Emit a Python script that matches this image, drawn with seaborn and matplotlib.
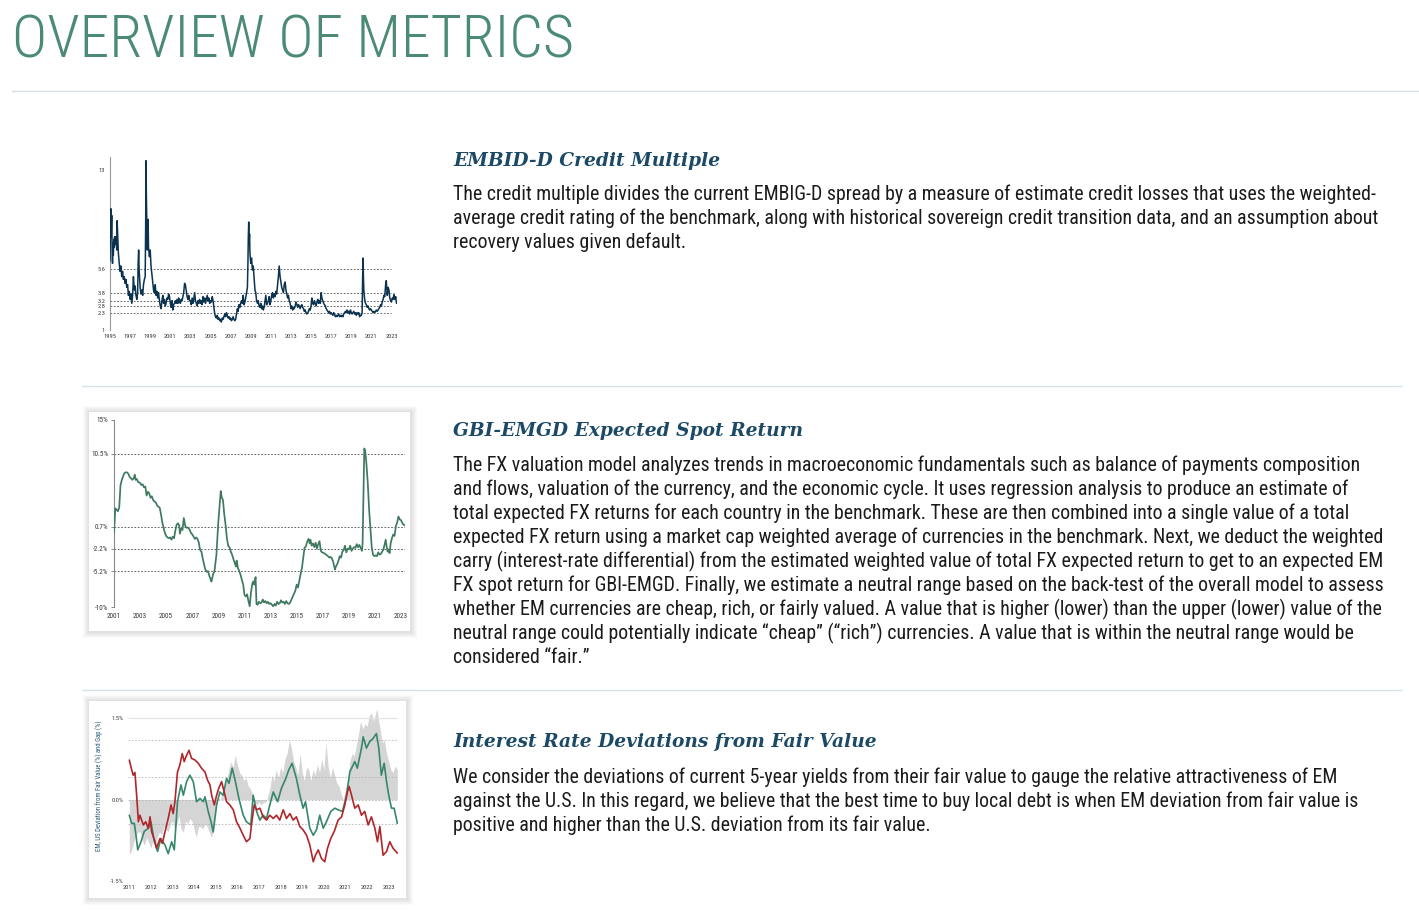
import matplotlib
matplotlib.use("Agg")
import numpy as np
import pandas as pd
import matplotlib.pyplot as plt
import seaborn as sns
from matplotlib import font_manager
from matplotlib.patches import Rectangle
from matplotlib.lines import Line2D

# ---- data: EMBI-D credit multiple (year, multiple) ----
credit = [
    (1995.00, 6.2), (1995.04, 8.5), (1995.08, 10.1), (1995.12, 8.0), (1995.17, 9.6), (1995.21, 7.0),
    (1995.25, 6.0), (1995.29, 7.5), (1995.33, 6.6), (1995.38, 7.8), (1995.42, 7.2), (1995.46, 8.0),
    (1995.50, 7.4), (1995.58, 8.0), (1995.67, 7.0), (1995.71, 9.2), (1995.75, 8.4), (1995.83, 6.8),
    (1995.92, 6.0), (1996.00, 5.4), (1996.08, 5.8), (1996.17, 5.0), (1996.25, 5.4), (1996.33, 4.8),
    (1996.42, 5.0), (1996.50, 4.5), (1996.58, 4.8), (1996.67, 4.2), (1996.75, 4.4), (1996.83, 3.6),
    (1996.92, 3.9), (1997.00, 3.3), (1997.08, 3.7), (1997.17, 3.0), (1997.25, 3.6), (1997.33, 5.0),
    (1997.42, 4.0), (1997.50, 4.3), (1997.58, 3.6), (1997.67, 3.3), (1997.75, 3.8), (1997.80, 6.0),
    (1997.85, 7.0), (1997.90, 5.5), (1998.00, 4.2), (1998.08, 3.7), (1998.17, 4.0), (1998.25, 3.6),
    (1998.33, 4.4), (1998.42, 4.8), (1998.50, 5.0), (1998.55, 9.0), (1998.58, 13.7), (1998.62, 11.0),
    (1998.67, 9.0), (1998.71, 7.0), (1998.75, 8.0), (1998.79, 9.3), (1998.83, 7.2), (1998.92, 6.5),
    (1999.00, 7.0), (1999.08, 5.8), (1999.17, 5.2), (1999.25, 4.6), (1999.33, 4.0), (1999.42, 3.8),
    (1999.50, 4.4), (1999.58, 3.6), (1999.67, 3.9), (1999.75, 3.4), (1999.83, 3.8), (1999.92, 3.2),
    (2000.00, 2.8), (2000.08, 2.6), (2000.17, 3.2), (2000.25, 3.6), (2000.33, 3.0), (2000.42, 3.3),
    (2000.50, 2.8), (2000.58, 3.0), (2000.67, 3.4), (2000.75, 3.3), (2000.83, 3.7), (2000.92, 3.5),
    (2001.00, 3.0), (2001.08, 2.7), (2001.17, 3.2), (2001.25, 2.5), (2001.33, 2.9), (2001.42, 3.0),
    (2001.50, 3.2), (2001.58, 3.0), (2001.67, 3.3), (2001.75, 3.0), (2001.83, 3.4), (2001.92, 3.1),
    (2002.00, 3.0), (2002.08, 3.3), (2002.17, 3.2), (2002.25, 3.5), (2002.33, 3.8), (2002.42, 4.5),
    (2002.50, 4.4), (2002.58, 4.0), (2002.67, 3.5), (2002.75, 3.3), (2002.83, 3.6), (2002.92, 3.2),
    (2003.00, 3.2), (2003.08, 2.9), (2003.17, 3.4), (2003.25, 3.0), (2003.33, 3.3), (2003.42, 3.8),
    (2003.50, 3.2), (2003.58, 3.0), (2003.67, 2.8), (2003.75, 3.2), (2003.83, 3.0), (2003.92, 3.3),
    (2004.00, 3.0), (2004.08, 3.2), (2004.17, 2.9), (2004.25, 3.5), (2004.33, 3.1), (2004.42, 3.4),
    (2004.50, 3.0), (2004.58, 3.3), (2004.67, 3.6), (2004.75, 3.2), (2004.83, 3.4), (2004.92, 3.0),
    (2005.00, 3.2), (2005.08, 3.1), (2005.17, 3.5), (2005.25, 3.2), (2005.33, 2.7), (2005.42, 2.2),
    (2005.50, 2.0), (2005.58, 1.9), (2005.67, 2.1), (2005.75, 1.8), (2005.83, 1.9), (2005.92, 1.7),
    (2006.00, 1.8), (2006.08, 1.6), (2006.17, 1.9), (2006.25, 1.8), (2006.33, 2.0), (2006.42, 2.2),
    (2006.50, 2.0), (2006.58, 2.3), (2006.67, 2.1), (2006.75, 1.9), (2006.83, 2.0), (2006.92, 1.8),
    (2007.00, 1.9), (2007.08, 1.7), (2007.17, 1.8), (2007.25, 2.0), (2007.33, 1.8), (2007.42, 1.7),
    (2007.50, 1.8), (2007.58, 2.2), (2007.67, 2.6), (2007.75, 2.4), (2007.83, 2.9), (2007.92, 2.7),
    (2008.00, 3.0), (2008.08, 3.2), (2008.17, 3.0), (2008.25, 3.6), (2008.33, 2.9), (2008.42, 3.1),
    (2008.50, 3.4), (2008.58, 3.8), (2008.67, 4.2), (2008.72, 6.0), (2008.76, 8.0), (2008.80, 9.1),
    (2008.84, 7.5), (2008.88, 8.2), (2008.92, 6.8), (2009.00, 6.0), (2009.08, 6.4), (2009.17, 5.5),
    (2009.25, 5.8), (2009.33, 5.0), (2009.42, 4.0), (2009.50, 3.8), (2009.58, 3.2), (2009.67, 3.0),
    (2009.75, 3.2), (2009.83, 2.8), (2009.92, 2.7), (2010.00, 3.0), (2010.08, 2.6), (2010.17, 2.8),
    (2010.25, 2.5), (2010.33, 2.7), (2010.42, 3.2), (2010.50, 3.6), (2010.58, 2.9), (2010.67, 3.0),
    (2010.75, 3.2), (2010.83, 3.5), (2010.92, 2.9), (2011.00, 3.2), (2011.08, 3.6), (2011.17, 3.8),
    (2011.25, 3.4), (2011.33, 3.7), (2011.42, 3.5), (2011.50, 3.9), (2011.58, 3.7), (2011.67, 4.4),
    (2011.75, 5.0), (2011.83, 5.8), (2011.88, 5.4), (2011.92, 5.0), (2012.00, 4.6), (2012.08, 4.2),
    (2012.17, 4.0), (2012.25, 3.8), (2012.33, 4.4), (2012.42, 4.6), (2012.50, 4.0), (2012.58, 3.7),
    (2012.67, 3.4), (2012.75, 3.6), (2012.83, 3.2), (2012.92, 3.0), (2013.00, 2.6), (2013.08, 2.8),
    (2013.17, 2.5), (2013.25, 2.7), (2013.33, 2.6), (2013.42, 2.8), (2013.50, 3.1), (2013.58, 2.9),
    (2013.67, 2.7), (2013.75, 2.9), (2013.83, 2.8), (2013.92, 2.6), (2014.00, 2.8), (2014.08, 2.9),
    (2014.17, 2.7), (2014.25, 2.6), (2014.33, 2.4), (2014.42, 2.5), (2014.50, 2.3), (2014.58, 2.2),
    (2014.67, 2.3), (2014.75, 2.4), (2014.83, 2.6), (2014.92, 2.5), (2015.00, 2.8), (2015.08, 3.4),
    (2015.17, 3.0), (2015.25, 2.9), (2015.33, 3.2), (2015.42, 3.0), (2015.50, 2.8), (2015.58, 3.1),
    (2015.67, 3.3), (2015.75, 3.0), (2015.83, 3.2), (2015.92, 3.0), (2016.00, 3.8), (2016.08, 3.4),
    (2016.17, 3.2), (2016.25, 3.0), (2016.33, 2.9), (2016.42, 2.8), (2016.50, 2.6), (2016.58, 2.5),
    (2016.67, 2.4), (2016.75, 2.3), (2016.83, 2.4), (2016.92, 2.2), (2017.00, 2.3), (2017.08, 2.2),
    (2017.17, 2.1), (2017.25, 2.3), (2017.33, 2.2), (2017.42, 2.0), (2017.50, 2.1), (2017.58, 2.0),
    (2017.67, 2.1), (2017.75, 2.2), (2017.83, 2.0), (2017.92, 2.1), (2018.00, 2.0), (2018.08, 2.1),
    (2018.17, 2.0), (2018.25, 2.2), (2018.33, 2.3), (2018.42, 2.4), (2018.50, 2.3), (2018.58, 2.5),
    (2018.67, 2.3), (2018.75, 2.4), (2018.83, 2.2), (2018.92, 2.5), (2019.00, 2.3), (2019.08, 2.2),
    (2019.17, 2.3), (2019.25, 2.4), (2019.33, 2.2), (2019.42, 2.3), (2019.50, 2.1), (2019.58, 2.3),
    (2019.67, 2.2), (2019.75, 2.3), (2019.83, 2.0), (2019.92, 2.1), (2020.00, 2.1), (2020.08, 2.3),
    (2020.12, 4.5), (2020.17, 6.4), (2020.21, 5.0), (2020.25, 4.0), (2020.33, 3.3), (2020.42, 3.0),
    (2020.50, 2.9), (2020.58, 2.7), (2020.67, 2.8), (2020.75, 2.6), (2020.83, 2.5), (2020.92, 2.6),
    (2021.00, 2.5), (2021.08, 2.4), (2021.17, 2.3), (2021.25, 2.4), (2021.33, 2.3), (2021.42, 2.4),
    (2021.50, 2.5), (2021.58, 2.4), (2021.67, 2.5), (2021.75, 2.6), (2021.83, 2.7), (2021.92, 2.9),
    (2022.00, 2.8), (2022.08, 3.1), (2022.17, 3.3), (2022.25, 3.6), (2022.33, 3.5), (2022.42, 4.4),
    (2022.48, 4.7), (2022.54, 4.0), (2022.58, 3.6), (2022.67, 4.2), (2022.75, 4.0), (2022.83, 3.4),
    (2022.92, 3.2), (2023.00, 3.1), (2023.08, 3.4), (2023.17, 3.3), (2023.25, 3.7), (2023.33, 3.3),
    (2023.42, 3.5), (2023.50, 3.0),
]
credit_levels = [5.6, 3.8, 3.2, 2.8, 2.3]
credit_ticks = [1, 2.3, 2.8, 3.2, 3.8, 5.6, 13]
credit_years = list(range(1995, 2024, 2))

# ---- data: GBI-EMGD expected spot return (year, %) ----
spot = [
    (2001.00, -0.1), (2001.05, 1.5), (2001.10, 3.2), (2001.20, 3.0), (2001.30, 2.8), (2001.40, 3.3),
    (2001.50, 6.3), (2001.60, 7.0), (2001.70, 7.5), (2001.80, 7.9), (2001.90, 8.0), (2002.00, 8.0),
    (2002.10, 7.8), (2002.20, 7.4), (2002.30, 7.2), (2002.40, 7.0), (2002.50, 7.2), (2002.60, 7.7),
    (2002.65, 7.0), (2002.75, 7.1), (2002.85, 6.7), (2003.00, 6.6), (2003.10, 6.3), (2003.20, 6.4),
    (2003.30, 6.0), (2003.40, 6.1), (2003.50, 4.9), (2003.60, 5.4), (2003.70, 5.2), (2003.80, 4.6),
    (2003.90, 4.8), (2004.00, 4.3), (2004.10, 4.1), (2004.20, 4.0), (2004.30, 3.6), (2004.40, 3.4),
    (2004.50, 3.3), (2004.60, 2.4), (2004.70, 1.3), (2004.80, 0.6), (2004.90, -0.1), (2005.00, -0.5),
    (2005.10, -0.7), (2005.20, -0.8), (2005.30, -0.7), (2005.40, -1.0), (2005.50, -0.6), (2005.60, -0.8),
    (2005.70, 0.2), (2005.80, 1.0), (2005.90, 1.2), (2006.00, 0.9), (2006.05, -0.2), (2006.15, 0.5),
    (2006.25, 0.3), (2006.35, 1.9), (2006.45, 0.9), (2006.55, 0.6), (2006.70, 0.6), (2006.80, 0.3),
    (2006.90, -0.1), (2007.00, -0.3), (2007.10, -0.6), (2007.20, -0.9), (2007.30, -0.7), (2007.40, -0.9),
    (2007.50, -1.4), (2007.60, -2.4), (2007.70, -2.6), (2007.80, -3.5), (2007.90, -4.3), (2008.00, -5.0),
    (2008.10, -5.3), (2008.20, -5.2), (2008.30, -5.8), (2008.40, -6.3), (2008.47, -6.6), (2008.60, -5.6),
    (2008.70, -5.2), (2008.85, -3.0), (2008.98, 1.0), (2009.10, 3.7), (2009.18, 5.5), (2009.25, 4.7),
    (2009.35, 4.3), (2009.45, 2.4), (2009.55, 1.0), (2009.65, -0.8), (2009.75, -1.8), (2009.87, -2.1),
    (2009.95, -2.6), (2010.05, -3.0), (2010.15, -3.6), (2010.25, -4.1), (2010.35, -4.6), (2010.40, -3.8),
    (2010.50, -4.8), (2010.60, -5.2), (2010.70, -5.7), (2010.80, -6.4), (2010.90, -7.0), (2011.00, -8.4),
    (2011.10, -8.6), (2011.20, -8.3), (2011.30, -9.2), (2011.40, -9.9), (2011.50, -8.0), (2011.60, -6.9),
    (2011.67, -6.6), (2011.75, -7.0), (2011.85, -6.0), (2011.92, -9.6), (2012.00, -9.7), (2012.10, -9.3),
    (2012.20, -9.5), (2012.30, -9.4), (2012.40, -9.0), (2012.50, -9.4), (2012.60, -9.2), (2012.70, -9.5),
    (2012.80, -9.3), (2012.90, -9.6), (2013.00, -9.5), (2013.10, -9.7), (2013.20, -9.9), (2013.30, -9.6),
    (2013.40, -9.8), (2013.50, -9.3), (2013.60, -9.6), (2013.70, -9.5), (2013.80, -9.1), (2013.90, -9.4),
    (2014.00, -9.3), (2014.10, -9.6), (2014.20, -9.2), (2014.30, -9.5), (2014.40, -9.6), (2014.50, -9.4),
    (2014.60, -9.0), (2014.70, -8.6), (2014.80, -8.2), (2014.90, -7.8), (2015.00, -7.0), (2015.10, -7.4),
    (2015.20, -6.5), (2015.30, -5.6), (2015.40, -4.8), (2015.50, -3.5), (2015.60, -2.1), (2015.70, -1.9),
    (2015.80, -1.3), (2015.90, -0.9), (2016.00, -1.5), (2016.05, -1.0), (2016.15, -1.8), (2016.25, -1.5),
    (2016.35, -2.0), (2016.45, -1.4), (2016.55, -2.2), (2016.65, -1.6), (2016.75, -1.2), (2016.85, -2.5),
    (2016.95, -2.7), (2017.10, -2.8), (2017.25, -3.0), (2017.40, -3.2), (2017.50, -3.4), (2017.60, -3.3),
    (2017.70, -3.5), (2017.80, -4.0), (2017.93, -5.0), (2018.00, -4.6), (2018.10, -4.3), (2018.20, -3.8),
    (2018.30, -3.2), (2018.40, -3.4), (2018.50, -2.6), (2018.60, -2.4), (2018.70, -1.8), (2018.80, -2.7),
    (2018.90, -2.2), (2019.00, -2.3), (2019.10, -1.8), (2019.20, -2.5), (2019.30, -2.2), (2019.40, -2.0),
    (2019.50, -2.1), (2019.60, -1.6), (2019.70, -2.0), (2019.80, -1.7), (2019.90, -2.1), (2020.00, -2.5),
    (2020.05, -1.5), (2020.12, 5.0), (2020.18, 11.2), (2020.25, 10.9), (2020.35, 9.0), (2020.45, 6.5),
    (2020.55, 3.0), (2020.65, 0.5), (2020.75, -2.0), (2020.85, -3.0), (2020.95, -3.2), (2021.05, -3.1),
    (2021.15, -3.2), (2021.25, -2.7), (2021.35, -3.0), (2021.45, -2.9), (2021.55, -2.6), (2021.65, -2.3),
    (2021.75, -1.5), (2021.82, -1.0), (2021.90, -2.0), (2021.97, -2.6), (2022.05, -2.3), (2022.12, -2.8),
    (2022.20, -1.5), (2022.30, -0.8), (2022.40, -0.3), (2022.50, -0.5), (2022.60, 0.8), (2022.70, 1.3),
    (2022.80, 2.1), (2022.90, 1.7), (2023.00, 1.6), (2023.10, 1.2), (2023.20, 1.0), (2023.25, 0.9),
]
spot_levels = [10.5, 0.7, -2.2, -5.2]
spot_ticks = [15, 10.5, 0.7, -2.2, -5.2, -10]
spot_years = list(range(2001, 2024, 2))

# ---- data: interest rate deviations from fair value (year, %) ----
us_dev = [
    (2011.00, 0.73), (2011.11, 0.55), (2011.18, 0.45), (2011.26, 0.50), (2011.34, 0.08), (2011.42, -0.41),
    (2011.49, -0.29), (2011.65, -0.47), (2011.76, -0.41), (2011.88, -0.53), (2011.96, -0.32), (2012.03, -0.59),
    (2012.19, -0.78), (2012.26, -0.90), (2012.42, -0.72), (2012.53, -0.81), (2012.65, -0.60), (2012.80, -0.35),
    (2012.93, -0.10), (2013.03, -0.26), (2013.11, -0.04), (2013.23, 0.51), (2013.34, 0.64), (2013.45, 0.85),
    (2013.54, 0.70), (2013.62, 0.79), (2013.76, 0.91), (2013.88, 0.76), (2014.04, 0.73), (2014.19, 0.67),
    (2014.34, 0.58), (2014.50, 0.51), (2014.62, 0.36), (2014.73, 0.27), (2014.81, 0.08), (2014.93, -0.10),
    (2015.04, 0.08), (2015.14, 0.21), (2015.27, 0.33), (2015.39, 0.14), (2015.50, -0.04), (2015.65, -0.10),
    (2015.81, -0.19), (2015.96, -0.41), (2016.12, -0.53), (2016.27, -0.66), (2016.42, -0.78), (2016.58, -0.72),
    (2016.65, -0.47), (2016.78, -0.10), (2016.89, -0.19), (2017.04, -0.16), (2017.19, -0.32), (2017.35, -0.38),
    (2017.50, -0.29), (2017.66, -0.35), (2017.81, -0.29), (2017.96, -0.38), (2018.12, -0.19), (2018.27, -0.35),
    (2018.43, -0.26), (2018.58, -0.38), (2018.73, -0.32), (2018.89, -0.50), (2019.04, -0.56), (2019.20, -0.66),
    (2019.35, -0.84), (2019.51, -1.15), (2019.61, -1.03), (2019.74, -0.93), (2019.89, -1.09), (2020.04, -1.15),
    (2020.17, -0.90), (2020.32, -0.72), (2020.48, -0.59), (2020.66, -0.38), (2020.82, -0.32), (2020.97, -0.10),
    (2021.09, 0.14), (2021.17, 0.24), (2021.28, 0.08), (2021.43, -0.16), (2021.59, -0.10), (2021.74, -0.29),
    (2021.89, -0.22), (2022.05, -0.47), (2022.20, -0.32), (2022.36, -0.53), (2022.48, -0.78), (2022.59, -0.50),
    (2022.74, -1.03), (2022.90, -0.96), (2023.05, -0.78), (2023.20, -0.90), (2023.40, -0.99),
]
em_dev = [
    (2011.00, -0.29), (2011.11, -0.44), (2011.23, -0.44), (2011.31, -0.66), (2011.39, -0.93), (2011.54, -0.78),
    (2011.69, -0.59), (2011.88, -0.53), (2012.00, -0.41), (2012.16, -0.78), (2012.31, -0.96), (2012.46, -0.72),
    (2012.65, -0.84), (2012.80, -1.00), (2012.96, -0.78), (2013.08, -0.93), (2013.23, -0.04), (2013.39, 0.27),
    (2013.50, 0.08), (2013.65, 0.33), (2013.80, 0.45), (2013.96, 0.33), (2014.11, -0.04), (2014.27, 0.02),
    (2014.42, -0.04), (2014.50, 0.05), (2014.65, -0.22), (2014.78, -0.41), (2014.88, -0.60), (2015.04, -0.10),
    (2015.19, 0.14), (2015.34, 0.08), (2015.50, 0.39), (2015.61, 0.30), (2015.76, 0.58), (2015.91, 0.33),
    (2016.07, 0.02), (2016.27, -0.29), (2016.42, -0.41), (2016.62, -0.47), (2016.73, 0.08), (2016.89, -0.22),
    (2017.04, -0.38), (2017.19, -0.29), (2017.35, -0.35), (2017.50, -0.10), (2017.66, 0.14), (2017.86, -0.04),
    (2018.04, 0.21), (2018.24, 0.39), (2018.38, 0.55), (2018.53, 0.67), (2018.73, 0.39), (2018.89, 0.08),
    (2019.04, -0.16), (2019.15, -0.04), (2019.35, -0.53), (2019.51, -0.66), (2019.66, -0.56), (2019.81, -0.29),
    (2019.97, -0.53), (2020.12, -0.41), (2020.32, -0.22), (2020.51, -0.16), (2020.66, -0.19), (2020.86, -0.22),
    (2021.05, 0.08), (2021.20, 0.51), (2021.43, 0.70), (2021.55, 0.58), (2021.74, 0.95), (2021.82, 1.16),
    (2021.97, 0.95), (2022.12, 1.07), (2022.28, 1.13), (2022.43, 1.22), (2022.54, 0.95), (2022.66, 0.45),
    (2022.79, 0.67), (2022.90, 0.33), (2023.00, 0.08), (2023.13, -0.16), (2023.25, -0.16), (2023.40, -0.44),
]
gap = [
    (2011.0, -1.02), (2011.1, -0.95), (2011.2, -0.80), (2011.3, -0.65), (2011.4, -0.60), (2011.5, -0.60),
    (2011.6, -0.75), (2011.7, -0.85), (2011.8, -0.70), (2011.9, -0.80), (2012.0, -0.90), (2012.1, -0.75),
    (2012.2, -0.85), (2012.3, -0.70), (2012.4, -0.60), (2012.5, -0.65), (2012.6, -0.50), (2012.7, -0.55),
    (2012.8, -0.60), (2012.9, -0.45), (2013.0, -0.40), (2013.1, -0.55), (2013.2, -0.45), (2013.3, -0.30),
    (2013.4, -0.55), (2013.5, -0.60), (2013.6, -0.40), (2013.7, -0.45), (2013.8, -0.35), (2013.9, -0.40),
    (2014.0, -0.55), (2014.1, -0.70), (2014.2, -0.50), (2014.3, -0.50), (2014.4, -0.55), (2014.5, -0.45),
    (2014.6, -0.50), (2014.7, -0.60), (2014.8, -0.70), (2014.9, -0.55), (2015.0, -0.20), (2015.1, 0.05),
    (2015.2, 0.00), (2015.3, 0.10), (2015.4, 0.25), (2015.5, 0.35), (2015.6, 0.55), (2015.7, 0.70),
    (2015.8, 0.60), (2015.9, 0.82), (2016.0, 0.65), (2016.1, 0.50), (2016.2, 0.45), (2016.3, 0.35),
    (2016.4, 0.40), (2016.5, 0.25), (2016.6, 0.20), (2016.7, 0.10), (2016.8, -0.05), (2016.9, -0.10),
    (2017.0, -0.05), (2017.1, -0.10), (2017.2, -0.05), (2017.3, -0.05), (2017.4, 0.05), (2017.5, 0.20),
    (2017.6, 0.45), (2017.7, 0.35), (2017.8, 0.55), (2017.9, 0.40), (2018.0, 0.60), (2018.1, 0.50),
    (2018.2, 0.75), (2018.3, 0.85), (2018.4, 1.10), (2018.5, 0.95), (2018.6, 0.70), (2018.7, 0.60),
    (2018.8, 0.45), (2018.9, 0.85), (2019.0, 0.50), (2019.1, 0.35), (2019.2, 0.60), (2019.3, 0.55),
    (2019.4, 0.35), (2019.5, 0.55), (2019.6, 0.45), (2019.7, 0.65), (2019.8, 0.50), (2019.9, 0.75),
    (2020.0, 0.55), (2020.1, 1.05), (2020.2, 0.60), (2020.3, 0.40), (2020.4, 0.60), (2020.5, 0.45),
    (2020.6, 0.30), (2020.7, 0.25), (2020.8, 0.10), (2020.9, 0.00), (2021.0, 0.20), (2021.1, 0.35),
    (2021.2, 0.70), (2021.3, 0.85), (2021.4, 0.80), (2021.5, 1.00), (2021.6, 1.20), (2021.7, 1.45),
    (2021.8, 1.30), (2021.9, 1.40), (2022.0, 1.35), (2022.1, 1.55), (2022.2, 1.60), (2022.3, 1.45),
    (2022.4, 1.60), (2022.45, 1.68), (2022.5, 1.55), (2022.6, 1.30), (2022.7, 1.05), (2022.8, 1.10),
    (2022.9, 0.85), (2023.0, 0.70), (2023.1, 0.55), (2023.2, 0.50), (2023.3, 0.62), (2023.4, 0.55),
]
dev_ticks = [-1.5, 0.0, 1.5]
dev_guides = [1.1, 0.41, 0.0, -0.45]
dev_years = list(range(2011, 2024))

title = "OVERVIEW OF METRICS"
headings = ["EMBID-D Credit Multiple", "GBI-EMGD Expected Spot Return",
            "Interest Rate Deviations from Fair Value"]
para1 = [
    "The credit multiple divides the current EMBIG-D spread by a measure of estimate credit losses that uses the weighted-",
    "average credit rating of the benchmark, along with historical sovereign credit transition data, and an assumption about",
    "recovery values given default.",
]
para2 = [
    "The FX valuation model analyzes trends in macroeconomic fundamentals such as balance of payments composition",
    "and flows, valuation of the currency, and the economic cycle. It uses regression analysis to produce an estimate of",
    "total expected FX returns for each country in the benchmark. These are then combined into a single value of a total",
    "expected FX return using a market cap weighted average of currencies in the benchmark. Next, we deduct the weighted",
    "carry (interest-rate differential) from the estimated weighted value of total FX expected return to get to an expected EM",
    "FX spot return for GBI-EMGD. Finally, we estimate a neutral range based on the back-test of the overall model to assess",
    "whether EM currencies are cheap, rich, or fairly valued. A value that is higher (lower) than the upper (lower) value of the",
    "neutral range could potentially indicate \u201ccheap\u201d (\u201crich\u201d) currencies. A value that is within the neutral range would be",
    "considered \u201cfair.\u201d",
]
para3 = [
    "We consider the deviations of current 5-year yields from their fair value to gauge the relative attractiveness of EM",
    "against the U.S. In this regard, we believe that the best time to buy local debt is when EM deviation from fair value is",
    "positive and higher than the U.S. deviation from its fair value.",
]

# ---- styling ----
sns.set_style("white")
names = {f.name for f in font_manager.fontManager.ttflist}
sans = next((n for n in ["Roboto Condensed", "Liberation Sans Narrow", "Roboto"] if n in names), "DejaVu Sans")
plt.rcParams["font.family"] = [sans, "DejaVu Sans"]

W, H = 1419, 910
fig = plt.figure(figsize=(W / 100, H / 100), dpi=100)
fig.patch.set_facecolor("white")


def fx(px):
    return px / W


def fy(py):
    return 1 - py / H


def rect(x0, y0, x1, y1):
    return [fx(x0), fy(y1), (x1 - x0) / W, (y1 - y0) / H]


def hrule(x0, x1, y, color):
    fig.add_artist(Line2D([fx(x0), fx(x1)], [fy(y), fy(y)], color=color, lw=1.0,
                          transform=fig.transFigure))


def framed(x0, y0, x1, y1):
    for k in range(6, 0, -1):
        fig.patches.append(Rectangle((fx(x0 - k + 1), fy(y1 + k + 1)), (x1 - x0 + 2 * k) / W,
                                     (y1 - y0 + 2 * k) / H, transform=fig.transFigure,
                                     facecolor="black", alpha=0.02, lw=0, zorder=-2))
    fig.patches.append(Rectangle((fx(x0), fy(y1)), (x1 - x0) / W, (y1 - y0) / H,
                                 transform=fig.transFigure, facecolor="white",
                                 edgecolor="#dcdcdc", lw=0.5, zorder=-1))


tick_color = "#3a3a3a"
dots = (0, (2.0, 2.0))

# ---- chart 1: credit multiple ----
ax1 = fig.add_axes(rect(110, 156.7, 397, 330))
ax1.patch.set_alpha(0)
df1 = pd.DataFrame(credit, columns=["year", "multiple"])
sns.lineplot(data=df1, x="year", y="multiple", ax=ax1, color="#0b3350", lw=1.1, estimator=None, zorder=3)
ax1.hlines(credit_levels, 1995, 2023.0, colors="#4a4a4a", linestyles=dots, lw=0.6, zorder=1)
ax1.set_xlim(1995, 2023.55)
ax1.set_ylim(1, 14)
ax1.set_yticks(credit_ticks)
ax1.set_yticklabels([f"{v:g}" for v in credit_ticks])
ax1.set_xticks(credit_years)
ax1.set_xticklabels([str(y) for y in credit_years])
ax1.tick_params(axis="both", length=0, labelsize=4.6, colors=tick_color)
ax1.tick_params(axis="y", pad=3.5)
ax1.tick_params(axis="x", pad=3)
ax1.set_xlabel("")
ax1.set_ylabel("")
for s in ["top", "right", "bottom"]:
    ax1.spines[s].set_visible(False)
ax1.spines["left"].set_color("#9a9a9a")
ax1.spines["left"].set_linewidth(0.8)

# ---- chart 2: expected spot return ----
framed(88, 411, 410, 631)
ax2 = fig.add_axes(rect(114, 420, 405, 607))
ax2.patch.set_alpha(0)
df2 = pd.DataFrame(spot, columns=["year", "ret"])
sns.lineplot(data=df2, x="year", y="ret", ax=ax2, color="#3f7a60", lw=1.25, estimator=None, zorder=3)
ax2.hlines(spot_levels, 2001, 2023.3, colors="#444444", linestyles=dots, lw=0.6, zorder=1)
ax2.set_xlim(2001, 2023.3)
ax2.set_ylim(-10, 15)
ax2.set_yticks(spot_ticks)
ax2.set_yticklabels([f"{v:g}%" for v in spot_ticks])
ax2.set_xticks(spot_years)
ax2.set_xticklabels([str(y) for y in spot_years])
ax2.tick_params(axis="y", length=2.5, width=0.6, color="#777777", labelsize=5.2, colors=tick_color, pad=1.5, left=True)
ax2.tick_params(axis="x", length=0, labelsize=5.2, colors=tick_color, pad=4)
ax2.set_xlabel("")
ax2.set_ylabel("")
for s in ["top", "right", "bottom"]:
    ax2.spines[s].set_visible(False)
ax2.spines["left"].set_color("#888888")
ax2.spines["left"].set_linewidth(0.8)

# ---- chart 3: deviations from fair value ----
framed(88, 700, 406, 898)
ax3 = fig.add_axes(rect(128, 707, 398, 880.7))
ax3.patch.set_alpha(0)
dg = pd.DataFrame(gap, columns=["year", "gap"])
ax3.fill_between(dg["year"], dg["gap"], 0, color="#d5d5d5", lw=0, zorder=1)
ax3.hlines([1.5], 2010.94, 2023.43, colors="#dfe6eb", lw=0.8, zorder=2)
ax3.hlines(dev_guides, 2010.94, 2023.43, colors="#b5b5b5", linestyles=dots, lw=0.6, zorder=2)
de = pd.DataFrame(em_dev, columns=["year", "dev"])
du = pd.DataFrame(us_dev, columns=["year", "dev"])
sns.lineplot(data=de, x="year", y="dev", ax=ax3, color="#37876a", lw=1.2, estimator=None, zorder=3)
sns.lineplot(data=du, x="year", y="dev", ax=ax3, color="#b0262b", lw=1.2, estimator=None, zorder=3)
ax3.set_xlim(2010.94, 2023.43)
ax3.set_ylim(-1.5, 1.71)
ax3.set_yticks(dev_ticks)
ax3.set_yticklabels([f"{v:.1f}%" for v in dev_ticks])
ax3.set_xticks(dev_years)
ax3.set_xticklabels([str(y) for y in dev_years])
ax3.tick_params(axis="both", length=0, labelsize=4.6, colors=tick_color)
ax3.tick_params(axis="y", pad=3.5)
ax3.tick_params(axis="x", pad=3)
ax3.set_xlabel("")
ax3.set_ylabel("EM, US Deviation from Fair Value (%) and Gap (%)", fontsize=4.9, color="#2b5d78")
ax3.yaxis.set_label_coords((103 - 128) / 270, 0.545)
for s in ax3.spines.values():
    s.set_visible(False)

# ---- page furniture ----
hrule(12, 1419, 91, "#d3e1e8")
hrule(82, 1402, 386, "#d5e2e8")
hrule(82, 1402, 690, "#d5e2e8")

renderer = fig.canvas.get_renderer()


def fit(t, target):
    w = t.get_window_extent(renderer).width
    t.set_fontsize(t.get_fontsize() * target / w)
    return t.get_fontsize()


t_title = fig.text(fx(12), fy(57.5), title, fontsize=40, color="#4b8a73", fontweight="light",
                   va="baseline", ha="left")
fit(t_title, 562)

head_y = [166, 436, 747]
head_texts = [fig.text(fx(453), fy(y), h, fontsize=14, color="#1c4a66", family="DejaVu Serif",
                       fontweight="bold", fontstyle="italic", va="baseline", ha="left")
              for h, y in zip(headings, head_y)]
hs = fit(head_texts[2], 424)
for t in head_texts:
    t.set_fontsize(hs)

body = []
for lines, y0 in [(para1, 200), (para2, 471), (para3, 783)]:
    for i, line in enumerate(lines):
        body.append(fig.text(fx(453), fy(y0 + 24 * i), line, fontsize=13, color="#1b1b1b",
                             va="baseline", ha="left"))
bs = fit(body[3 + 5], 931)
for t in body:
    t.set_fontsize(bs)

fig.savefig("out.png", dpi=100, facecolor="white")
